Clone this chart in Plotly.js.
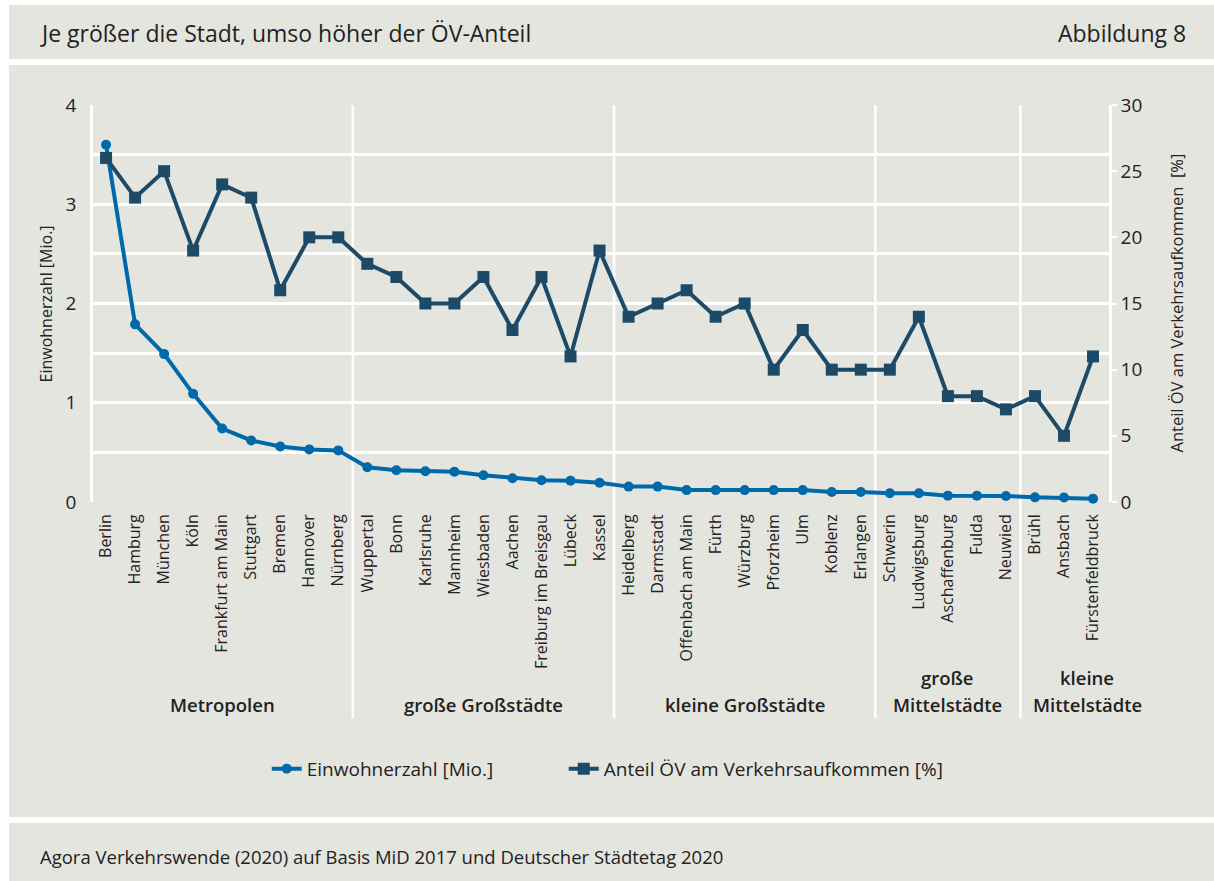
<!DOCTYPE html>
<html>
<head>
<meta charset="utf-8">
<script src="https://cdn.plot.ly/plotly-3.0.1.min.js"></script>
<style>
html,body{margin:0;padding:0;background:#fff;}
#chart{width:1214px;height:881px;}
</style>
</head>
<body>
<div id="chart"></div>
<script>
const cities = ['Berlin','Hamburg','München','Köln','Frankfurt am Main','Stuttgart','Bremen','Hannover','Nürnberg',
  'Wuppertal','Bonn','Karlsruhe','Mannheim','Wiesbaden','Aachen','Freiburg im Breisgau','Lübeck','Kassel',
  'Heidelberg','Darmstadt','Offenbach am Main','Fürth','Würzburg','Pforzheim','Ulm','Koblenz','Erlangen',
  'Schwerin','Ludwigsburg','Aschaffenburg','Fulda','Neuwied',
  'Brühl','Ansbach','Fürstenfeldbruck'];
const einwohner = [3.60,1.79,1.49,1.09,0.74,0.62,0.56,0.53,0.52,
  0.35,0.32,0.31,0.305,0.27,0.24,0.22,0.215,0.195,
  0.155,0.155,0.12,0.12,0.12,0.12,0.12,0.10,0.10,
  0.088,0.088,0.064,0.064,0.06,
  0.047,0.045,0.034];
const anteilOEV = [26,23,25,19,24,23,16,20,20,
  18,17,15,15,17,13,17,11,19,
  14,15,16,14,15,10,13,10,10,
  10,14,8,8,7,
  8,5,11];
const groups = [['Metropolen'],['große Großstädte'],['kleine Großstädte'],['große','Mittelstädte'],['kleine','Mittelstädte']];
const groupBounds = [8.5,17.5,26.5,31.5];
const groupCenters = [4,13,22,28.97,33.8];

const bg = '#e5e5e0';
const txt = '#222222';
const F = 'Open Sans';

const traces = [
  {x: cities, y: einwohner, type:'scatter', mode:'lines+markers', name:'Einwohnerzahl [Mio.]', legendwidth:252,
   line:{color:'#0069aa', width:4}, marker:{symbol:'circle', size:10, color:'#0069aa'}, cliponaxis:false},
  {x: cities, y: anteilOEV, type:'scatter', mode:'lines+markers', name:'Anteil ÖV am Verkehrsaufkommen [%]', yaxis:'y2', legendwidth:400,
   line:{color:'#1d4a66', width:4}, marker:{symbol:'square', size:12, color:'#1d4a66'}, cliponaxis:false}
];

const shapes = [
  {type:'rect', xref:'paper', yref:'paper', x0:-0.0827, x1:1.12, y0:1.1159, y1:1.2519, fillcolor:bg, line:{width:0}, layer:'below'},
  {type:'rect', xref:'paper', yref:'paper', x0:-0.0827, x1:1.12, y0:-0.7935, y1:1.1008, fillcolor:bg, line:{width:0}, layer:'below'},
  {type:'rect', xref:'paper', yref:'paper', x0:-0.0827, x1:1.12, y0:-1.05, y1:-0.8086, fillcolor:bg, line:{width:0}, layer:'below'}
];
groupBounds.forEach(b => shapes.push({type:'line', xref:'x', yref:'paper', x0:b, x1:b, y0:-0.544, y1:1, line:{color:'#ffffff', width:2.5}, layer:'below'}));

const annotations = [
  {text:'Je größer die Stadt, umso höher der ÖV-Anteil', xref:'paper', yref:'paper', x:-0.0541, y:1.181, xanchor:'left', yanchor:'middle', showarrow:false, font:{family:F, size:23, color:txt}},
  {text:'Abbildung 8', xref:'paper', yref:'paper', x:1.0778, y:1.181, xanchor:'right', yanchor:'middle', showarrow:false, font:{family:F, size:23, color:txt}},
  {text:'Agora Verkehrswende (2020) auf Basis MiD 2017 und Deutscher Städtetag 2020', xref:'paper', yref:'paper', x:-0.0541, y:-0.894, xanchor:'left', yanchor:'middle', showarrow:false, font:{family:F, size:18.5, color:txt}},
  {text:'Einwohnerzahl [Mio.]', xref:'paper', yref:'paper', x:-0.0463, y:0.50, xanchor:'center', yanchor:'middle', textangle:-90, showarrow:false, font:{family:F, size:16, color:txt}},
  {text:'Anteil ÖV am Verkehrsaufkommen  [%]', xref:'paper', yref:'paper', x:1.066, y:0.50, xanchor:'center', yanchor:'middle', textangle:-90, showarrow:false, font:{family:F, size:16.5, color:txt}}
];
groups.forEach((g,i) => {
  const ys = g.length === 2 ? [-0.441, -0.511] : [-0.511];
  g.forEach((line,j) => annotations.push({text:line, xref:'x', yref:'paper', x:groupCenters[i], y:ys[j], xanchor:'center', yanchor:'middle', showarrow:false, font:{family:F, size:18.5, weight:600, color:txt}}));
});

const layout = {
  width:1214, height:881,
  margin:{l:93, r:105, t:105, b:379, pad:0},
  paper_bgcolor:'#ffffff', plot_bgcolor:'rgba(0,0,0,0)',
  font:{family:F, color:txt, size:15},
  showlegend:true,
  legend:{orientation:'h', x:0.171, xanchor:'left', y:-0.672, yanchor:'middle', bgcolor:'rgba(0,0,0,0)', font:{family:F, size:19, color:txt}},
  xaxis:{type:'category', range:[-0.45,34.55], tickangle:-90, tickfont:{family:F, size:16, color:txt}, showgrid:false, zeroline:false, showline:false, ticks:'', ticklabelstandoff:8},
  yaxis:{range:[0,4], dtick:1, tick0:0, showgrid:true, gridcolor:'#ffffff', gridwidth:2.5,
    minor:{dtick:0.5, tick0:0, showgrid:true, gridcolor:'#ffffff', gridwidth:2.5},
    showline:true, linecolor:'#ffffff', linewidth:2.5, zeroline:false, ticks:'', tickfont:{family:F, size:19, color:txt}, ticklabelstandoff:10},
  yaxis2:{range:[0,30], dtick:5, tick0:0, overlaying:'y', side:'right', showgrid:false, zeroline:false,
    showline:true, linecolor:'#ffffff', linewidth:2.5, ticks:'outside', ticklen:5, tickwidth:2, tickcolor:'#ffffff', tickfont:{family:F, size:19, color:txt}},
  shapes: shapes,
  annotations: annotations
};

Plotly.newPlot('chart', traces, layout, {displayModeBar:false, responsive:false});
</script>
</body>
</html>
